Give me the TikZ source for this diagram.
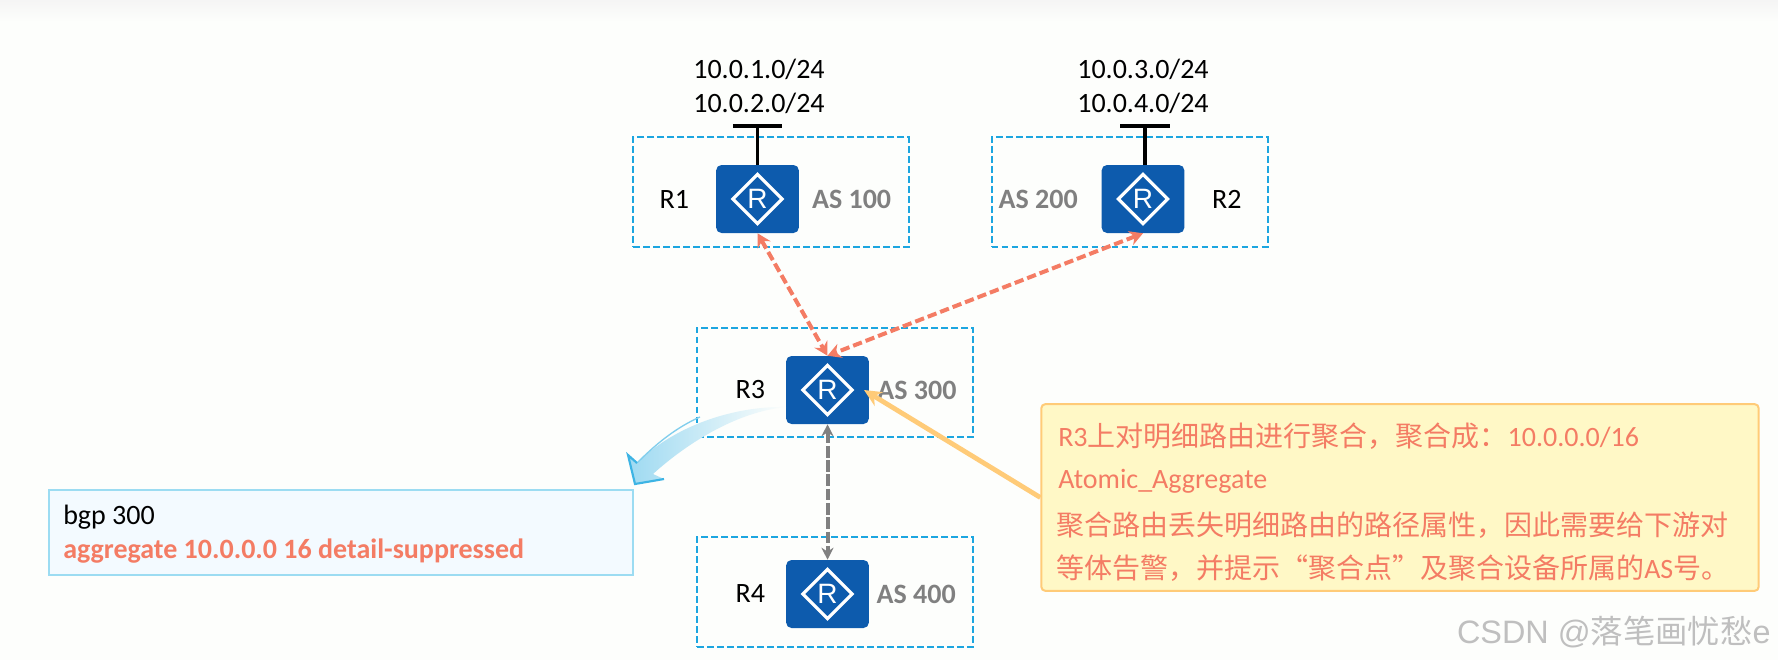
\documentclass[tikz,border=0pt]{standalone}
\usepackage{fontspec}
\setmainfont{Carlito}
\newfontfamily\cjk{Noto Sans CJK SC}
\newfontfamily\rfont{Liberation Sans}
\usepackage{xcolor}
\usetikzlibrary{arrows.meta}
\usetikzlibrary{positioning}
\definecolor{routerblue}{HTML}{0D5BAD}
\definecolor{boxblue}{HTML}{1CA6E0}
\definecolor{salmon}{HTML}{F47C64}
\definecolor{asgray}{HTML}{808080}
\definecolor{noteline}{HTML}{FFCB78}
\definecolor{notefill}{HTML}{FFF8C6}
\definecolor{cfgline}{HTML}{9CDCF2}
\definecolor{cfgfill}{HTML}{F3FAFF}
\definecolor{curveblue}{HTML}{3DB4E4}
\definecolor{paper}{HTML}{FDFEFC}
\tikzset{
  router/.style={fill=routerblue, rounded corners=4pt, minimum width=62pt, minimum height=51pt, inner sep=0pt, text=white, font=\rfont\fontsize{21}{21}\selectfont,
    path picture={\draw[white, sharp corners, line width=2.4pt, line join=miter]
      ([xshift=-18.5pt]path picture bounding box.center) -- ([yshift=18.5pt]path picture bounding box.center) -- ([xshift=18.5pt]path picture bounding box.center) -- ([yshift=-18.5pt]path picture bounding box.center) -- cycle;}},
  asbox/.style={draw=boxblue, dash pattern=on 5.2pt off 2.3pt, line width=1.5pt, minimum height=82pt, minimum width=#1, inner sep=0pt},
  asbox/.default=207pt,
  plain/.style={inner sep=0pt, font=\fontsize{21}{25}\selectfont},
  asname/.style={inner sep=0pt, text=asgray, font=\fontsize{21}{25}\selectfont\bfseries},
  stub/.style={line width=2.6pt, black},
  redlink/.style={{Stealth[length=10pt,width=11pt]}-{Stealth[length=10pt,width=11pt]}, salmon, line width=3pt, dash pattern=on 7pt off 3pt},
  graylink/.style={{Stealth[length=9pt,width=9pt]}-{Stealth[length=9pt,width=9pt]}, asgray, line width=3pt, dash pattern=on 8.7pt off 2pt},
}

\begin{document}
\begin{tikzpicture}[x=0.75pt, y=0.75pt]
  \useasboundingbox (0,0) rectangle (1778,-660);
  \fill[paper] (0,0) rectangle (1778,-660);
  \shade[top color=black!4, bottom color=paper] (0,0) rectangle (1778,-22);

  % AS boxes
  \node[asbox=207pt] (as1) at (771,-192) {};
  \node[asbox=207pt] (as2) at (1129.5,-192) {};
  \node[asbox=207pt] (as3) at (835,-382.5) {};
  \node[asbox=207pt] (as4) at (835,-592) {};

  % routers
  \node[router] (r1) at (757.5,-199) {R};
  \node[router] (r2) at (1143,-199) {R};
  \node[router] (r3) at (827.5,-390) {R};
  \node[router] (r4) at (827.5,-594) {R};

  \node[plain, left=20pt of r1] (n1) {R1};
  \node[asname, right=9.5pt of r1] (a1) {AS 100};
  \node[asname, left=17.5pt of r2] (a2) {AS 200};
  \node[plain, right=20.5pt of r2] (n2) {R2};
  \node[plain, left=15.5pt of r3] (n3) {R3};
  \node[asname, right=6pt of r3] (a3) {AS 300};
  \node[plain, left=15.5pt of r4] (n4) {R4};
  \node[asname, right=5.5pt of r4] (a4) {AS 400};

  % stub networks
  \coordinate[above=29pt of r1.north] (s1);
  \coordinate (s2) at (1145,-126);
  \draw[stub] (r1.north) -- (s1);
  \draw[stub] ([xshift=-18.5pt]s1) -- ([xshift=18.5pt]s1);
  \draw[stub] (1145,-165) -- (s2);
  \draw[stub] ([xshift=-18.5pt]s2) -- ([xshift=18.5pt]s2);
  \node[plain] (net1) at (759,-69) {10.0.1.0/24};
  \node[plain] (net2) at (759,-103) {10.0.2.0/24};
  \node[plain] (net3) at (1143,-69) {10.0.3.0/24};
  \node[plain] (net4) at (1143,-103) {10.0.4.0/24};

  % peerings
  \draw[redlink] (r1.south) -- (r3.north);
  \draw[redlink] (r2.south) -- (r3.north);
  \draw[graylink] (r3.south) -- (r4.north);

  % config box
  \node[draw=cfgline, fill=cfgfill, line width=1.5pt, minimum width=438pt, minimum height=64pt, inner sep=0pt] (cfg) at (340.5,-532.5) {};
  \node[plain, anchor=west] (cfg1) at (63,-517) {bgp 300};
  \node[plain, anchor=west, text=salmon, font=\fontsize{21}{25}\selectfont\bfseries] (cfg2) at (63,-551) {aggregate 10.0.0.0 16 detail-suppressed};

  % curved arrow
  \coordinate (c0) at (786,-407);
  \coordinate (c1) at (637,-463);
  \coordinate (c2) at (628,-455);
  \coordinate (c3) at (635,-484);
  \coordinate (c4) at (664,-479);
  \coordinate (c5) at (653,-474);
  \shade[left color=curveblue!50, middle color=curveblue!25, right color=paper]
    (c0) .. controls (735,-406) and (675,-425) .. (c1) -- (c2) -- (c3) -- (c4) -- (c5)
    .. controls (685,-445) and (735,-412) .. (c0) -- cycle;
  \draw[curveblue!65, line width=1pt] (700,-417) .. controls (675,-428) and (655,-445) .. (c1);
  \draw[curveblue, line width=1.6pt] (c1) -- (c2) -- (c3) -- (c4);

  % note
  \node[draw=noteline, fill=notefill, line width=1.5pt, rounded corners=3pt, minimum width=538pt, minimum height=140pt, inner sep=0pt] (note) at (1400,-497.5) {};
  \coordinate (r3tip) at (864,-390);
  \draw[-{Stealth[length=13pt,width=12pt]}, noteline, line width=3.6pt] (note.west) -- (r3tip);
  \node[plain, anchor=west, text=salmon] (note1) at (1058,-436) {R3{\cjk 上对明细路由进行聚合，聚合成：}10.0.0.0/16};
  \node[plain, anchor=west, text=salmon] (note2) at (1058,-481) {Atomic\_Aggregate};
  \node[plain, anchor=west, text=salmon, font=\fontsize{21}{26}\selectfont\cjk] (note3) at (1056,-525) {聚合路由丢失明细路由的路径属性，因此需要给下游对};
  \node[plain, anchor=west, text=salmon, font=\fontsize{21}{26}\selectfont\cjk] (note4) at (1056,-568) {等体告警，并提示“聚合点”及聚合设备所属的{\rmfamily AS}号。};

  % watermark
  \node[inner sep=0pt, anchor=east, text=black!25, font=\rfont\fontsize{24.3}{28}\selectfont] (mark) at (1771,-632) {CSDN @{\cjk 落笔画忧愁}e};
\end{tikzpicture}
\end{document}
